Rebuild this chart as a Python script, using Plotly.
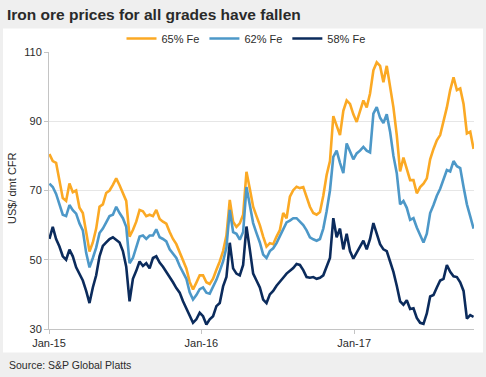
import pandas as pd
import plotly.graph_objects as go

# ---- data (8-day sampling) ----
START_DATE = "2015-01-02"
STEP = "8D"

FE65 = [80.5, 78.5, 78, 73, 67.8, 67, 72, 69.5, 70, 65, 63.5, 58, 52.4, 55, 59, 65.3, 66, 69.3, 70, 71.6,
        73.5, 71.5, 69.5, 67, 56.7, 58.6, 61, 64.4, 64, 62.6, 63, 62.6, 64.4, 61.8, 61, 60.4, 58, 56, 54.5, 52,
        50, 47.5, 43.6, 41.4, 43.4, 45.5, 45.5, 43.5, 43, 44.5, 47.1, 49.5, 52.5, 57, 67.3, 61, 59.5, 60.5, 63, 75.4,
        70.5, 65.3, 62.6, 60, 56.7, 53.8, 54.8, 54.5, 56.7, 58.6, 63.5, 62, 68.2, 70.1, 71.1, 70.7, 71, 68.2, 65.3, 63.5,
        63, 63.8, 68.5, 74.5, 78.5, 91.5, 88.4, 86, 93, 96, 95, 92, 89.8, 93, 96, 94, 98, 104.7, 107, 106,
        101.3, 106, 100, 94, 86, 75.5, 79.5, 76, 73, 73, 69.2, 71, 72, 73.5, 79, 82, 84.5, 86, 90, 94,
        99, 102.7, 99, 99.5, 95, 86.5, 87, 82]

FE62 = [72, 71, 69, 66, 63, 62.6, 65.8, 64.3, 63.3, 60.5, 58.5, 52, 47.8, 50.5, 53.5, 57.7, 59, 60.8, 62.6, 63,
        65.3, 63.5, 62, 59.5, 49, 50.5, 53.5, 56.7, 57, 56, 57, 57, 58.8, 56.5, 56, 55.3, 53, 51.8, 50.5, 48.2,
        46.5, 44.5, 40.6, 38.5, 39.8, 41.5, 42, 40.5, 40.2, 42, 44.2, 46.8, 49.5, 53.5, 64.4, 58, 57.5, 55.8, 58, 71,
        66, 60.6, 57.7, 55, 51.5, 50.5, 52.5, 53.3, 54.8, 56.8, 59, 60.8, 61.3, 62, 62, 61, 60, 58.5, 56.5, 55.9,
        55.5, 56, 59, 64, 70, 79.7, 81.5, 78, 75, 83.6, 81.5, 79, 80.7, 81.5, 82.6, 81.5, 81, 92.2, 94.1, 91,
        89.5, 92, 87, 80, 75, 66, 67, 65, 61.5, 62, 59.3, 57.3, 55, 57.5, 63.5, 65.8, 68.5, 70.5, 73.5, 75.9,
        75.5, 78.5, 77, 76.5, 71, 66, 62.5, 59]

FE58 = [56, 59.5, 56, 53.8, 51, 50, 52.9, 51, 47.8, 46, 44, 41, 37.5, 42, 45.5, 51, 54, 55, 56, 56.5,
        55.8, 55, 52.5, 48, 38, 44.5, 46.8, 49.5, 48.2, 49, 47.5, 50.5, 51, 49.2, 48, 46.5, 45.3, 43.5, 41.8, 40.5,
        38, 35.8, 33.8, 31.8, 32.8, 34.7, 33.7, 31.3, 32.8, 33.7, 36.6, 37.5, 42.3, 45, 54.9, 47.5, 46, 45.5, 48.5, 59.6,
        53, 46, 44, 42, 38.5, 37.5, 40, 41, 42.5, 43.8, 44.8, 46, 46.8, 47.6, 48.8, 48.5, 47, 45, 44.8, 45,
        44.5, 44.8, 45.5, 48, 50.5, 62, 56.5, 59, 53, 57.5, 52.5, 50.3, 52, 54, 55.5, 53, 56, 60.6, 57.5, 54.5,
        53, 52.5, 49.5, 46.5, 42.5, 38, 37, 38.3, 35.8, 36, 33.2, 31.8, 31.5, 34.5, 39.4, 39.8, 42, 44, 44.5, 48.5,
        46.5, 45.2, 45, 43.5, 41, 33, 34, 33.5]

SERIES_NAMES = ["65% Fe", "62% Fe", "58% Fe"]
SERIES_COLORS = ["#FBA924", "#4D98C8", "#0B2B5C"]
X_TICKS = ["2015-01-01", "2016-01-01", "2017-01-01"]
X_TICK_LABELS = ["Jan-15", "Jan-16", "Jan-17"]
Y_TICKS = [30, 50, 70, 90, 110]

dates = pd.date_range(START_DATE, periods=len(FE65), freq=STEP)

# ---- geometry (pixels) ----
W, H = 486, 377
L, R, T, B = 49, 12, 51.5, 47.5
pw, ph = W - L - R, H - T - B


def px(x):
    return (x - L) / pw


def py(y):
    return (H - B - y) / ph


FONT = "Liberation Sans, Arial, sans-serif"
TXT = "#2b2b2b"

fig = go.Figure()
for name, vals, col in zip(SERIES_NAMES, [FE65, FE62, FE58], SERIES_COLORS):
    fig.add_trace(go.Scatter(x=dates, y=vals, mode="lines", name=name,
                             line=dict(color=col, width=2.6)))

fig.update_layout(
    width=W, height=H,
    margin=dict(l=L, r=R, t=T, b=B, pad=0),
    paper_bgcolor="#EFEFEF",
    plot_bgcolor="#FFFFFF",
    font=dict(family=FONT, size=11, color=TXT),
    title=dict(text="Iron ore prices for all grades have fallen", x=7 / W, xanchor="left",
               y=1 - 15 / H, yanchor="middle",
               font=dict(family=FONT, size=15.5, color="#2a2a2a", weight="bold")),
    showlegend=True,
    legend=dict(orientation="h", x=px(246), xanchor="center", y=py(38), yanchor="middle",
                bgcolor="rgba(0,0,0,0)", font=dict(size=11, color=TXT),
                traceorder="normal", itemwidth=30),
    xaxis=dict(type="date", range=["2015-01-01", "2017-10-15"], tickvals=X_TICKS,
               ticktext=X_TICK_LABELS, showgrid=False, showline=True, linecolor="#C4C4C4",
               linewidth=1, ticks="outside", ticklen=4, tickcolor="#C4C4C4",
               tickfont=dict(size=11, color=TXT), zeroline=False),
    yaxis=dict(range=[30, 110], tickvals=Y_TICKS, showgrid=True, gridcolor="#E6E6E6",
               gridwidth=1, showline=True, linecolor="#C4C4C4", linewidth=1,
               ticks="outside", ticklen=4, tickcolor="#C4C4C4",
               tickfont=dict(size=11, color=TXT), zeroline=False),
    shapes=[dict(type="rect", xref="paper", yref="paper", x0=px(3), x1=px(483),
                 y0=py(353), y1=py(28), fillcolor="#FFFFFF", line=dict(width=0),
                 layer="below")],
    annotations=[
        dict(text="US$/ dmt CFR", textangle=-90, xref="paper", yref="paper",
             x=px(12), y=py(188), xanchor="center", yanchor="middle", showarrow=False,
             font=dict(size=11, color=TXT)),
        dict(text="Source: S&P Global Platts", xref="paper", yref="paper",
             x=px(7), y=py(366), xanchor="left", yanchor="middle", showarrow=False,
             font=dict(size=10.5, color=TXT)),
    ],
)

fig.write_html("out.html", config={"displayModeBar": False},
               post_script="document.body.style.margin='0';document.body.style.padding='0';"
                           "document.body.style.overflow='hidden';")
